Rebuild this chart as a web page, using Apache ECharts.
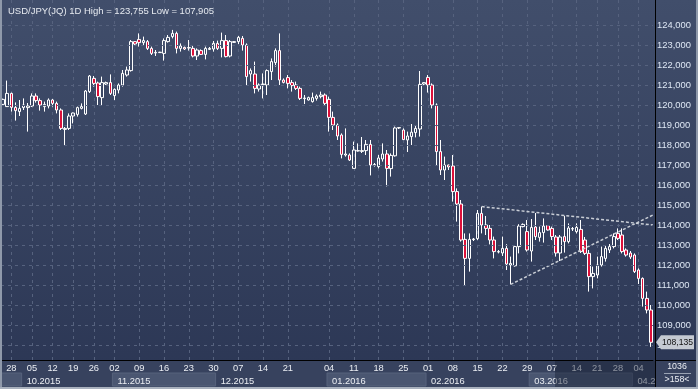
<!DOCTYPE html>
<html><head><meta charset="utf-8">
<script src="https://cdn.jsdelivr.net/npm/echarts@6/dist/echarts.min.js"></script>
<style>html,body{margin:0;padding:0;background:#2e3957}#c{width:698px;height:389px}</style>
</head><body><div id="c"></div><script>
const dates = [
'2015-09-24','2015-09-25','2015-09-28','2015-09-29','2015-09-30','2015-10-01','2015-10-02',
'2015-10-05','2015-10-06','2015-10-07','2015-10-08','2015-10-09',
'2015-10-12','2015-10-13','2015-10-14','2015-10-15','2015-10-16',
'2015-10-19','2015-10-20','2015-10-21','2015-10-22','2015-10-23',
'2015-10-26','2015-10-27','2015-10-28','2015-10-29','2015-10-30',
'2015-11-02','2015-11-03','2015-11-04','2015-11-05','2015-11-06','2015-11-07',
'2015-11-09','2015-11-10','2015-11-11','2015-11-12','2015-11-13','2015-11-14',
'2015-11-16','2015-11-17','2015-11-18','2015-11-19','2015-11-20','2015-11-21',
'2015-11-23','2015-11-24','2015-11-25','2015-11-26','2015-11-27','2015-11-28',
'2015-11-30','2015-12-01','2015-12-02','2015-12-03','2015-12-04','2015-12-05',
'2015-12-07','2015-12-08','2015-12-09','2015-12-10','2015-12-11','2015-12-12',
'2015-12-14','2015-12-15','2015-12-16','2015-12-17','2015-12-18','2015-12-19',
'2015-12-21','2015-12-22','2015-12-23','2015-12-24','2015-12-25','2015-12-26',
'2015-12-28','2015-12-29','2015-12-30','2015-12-31',
'2016-01-04','2016-01-05','2016-01-06','2016-01-07','2016-01-08','2016-01-09',
'2016-01-11','2016-01-12','2016-01-13','2016-01-14','2016-01-15','2016-01-16',
'2016-01-18','2016-01-19','2016-01-20','2016-01-21','2016-01-22','2016-01-23',
'2016-01-25','2016-01-26','2016-01-27','2016-01-28','2016-01-29','2016-01-30',
'2016-02-01','2016-02-02','2016-02-03','2016-02-04','2016-02-05','2016-02-06',
'2016-02-08','2016-02-09','2016-02-10','2016-02-11','2016-02-12','2016-02-13',
'2016-02-15','2016-02-16','2016-02-17','2016-02-18','2016-02-19','2016-02-20',
'2016-02-22','2016-02-23','2016-02-24','2016-02-25','2016-02-26','2016-02-27',
'2016-02-29','2016-03-01','2016-03-02','2016-03-03','2016-03-04','2016-03-05',
'2016-03-07','2016-03-08','2016-03-09','2016-03-10','2016-03-11','2016-03-12',
'2016-03-14','2016-03-15','2016-03-16','2016-03-17','2016-03-18',
'2016-03-21','2016-03-22','2016-03-23','2016-03-24','2016-03-25',
'2016-03-28','2016-03-29','2016-03-30','2016-03-31','2016-04-01',
'2016-04-04','2016-04-05','2016-04-06','2016-04-07'
];
const open = [
120.03,119.92,120.58,119.88,119.67,119.87,119.87,119.95,120.45,120.22,
119.92,119.95,120.25,120.08,119.75,118.78,118.83,119.45,119.53,119.83,
119.55,120.67,121.33,121.10,120.37,121.05,121.12,120.47,120.75,121.00,
121.50,121.72,123.17,123.28,123.12,123.17,122.83,122.60,122.62,122.58,
123.17,123.42,123.58,122.83,122.88,122.85,122.83,122.45,122.72,122.53,
122.78,122.80,123.08,122.83,123.22,122.45,123.13,123.17,123.33,123.00,
121.55,121.55,120.80,121.02,121.00,121.67,122.12,122.72,121.25,121.37,
121.12,121.00,120.83,120.32,120.25,120.17,120.33,120.42,120.50,120.28,
119.38,119.00,118.50,117.50,117.50,116.83,117.70,117.68,117.72,118.03,
117.00,116.92,117.30,117.55,116.82,117.46,118.85,118.75,118.25,118.42,
118.62,118.80,121.05,121.38,121.00,120.00,117.67,116.75,117.00,116.95,
115.67,115.05,113.28,112.33,113.27,113.32,114.58,114.00,113.83,113.25,
112.65,112.60,112.83,112.00,111.96,112.92,113.92,113.67,112.70,113.90,
113.38,113.62,113.97,113.83,113.40,112.60,113.42,113.17,113.80,113.67,
113.78,113.25,112.58,111.42,111.50,112.00,112.33,112.75,112.92,113.58,
113.50,112.75,112.60,112.50,111.75,111.33,110.33,109.75
];
const high = [
120.32,121.22,120.62,120.13,120.25,120.33,120.10,120.58,120.58,120.33,
120.17,120.33,120.30,120.17,119.83,118.90,119.58,119.62,119.92,120.08,
120.75,121.50,121.45,121.17,121.42,121.17,121.53,120.83,121.08,121.75,
121.92,123.25,123.20,123.58,123.42,123.25,122.92,122.75,122.66,123.33,
123.50,123.755,123.67,123.08,122.92,123.25,122.95,122.83,122.78,122.92,
122.90,123.20,123.22,123.62,123.50,123.25,123.20,123.45,123.45,123.08,
121.83,122.17,121.08,121.58,121.78,122.33,122.83,123.58,121.33,121.50,
121.25,121.17,120.92,120.50,120.42,120.62,120.53,120.67,120.58,120.42,
119.67,119.08,118.58,118.83,117.58,118.17,118.08,118.40,118.25,118.25,
117.10,117.50,118.08,117.75,117.58,118.92,118.90,118.83,118.67,119.05,
119.00,121.70,121.15,121.50,121.08,120.08,118.25,117.42,117.02,117.50,
115.83,115.25,113.58,113.58,113.35,114.75,114.92,114.45,114.00,113.42,
112.75,113.42,113.04,112.42,113.00,114.04,114.08,114.25,114.30,114.60,
113.92,114.33,114.00,113.92,113.50,113.50,114.46,114.08,113.90,114.08,
114.25,113.40,112.75,111.92,112.42,112.92,113.00,113.05,113.58,113.83,
113.83,112.83,112.70,112.58,111.83,111.38,110.67,110.00
];
const low = [
120.00,119.90,119.67,119.22,119.45,119.75,118.67,119.90,120.12,119.72,
119.67,119.83,119.92,119.58,118.75,118.00,118.75,119.08,119.42,119.78,
119.50,120.60,120.92,120.00,120.00,121.00,120.50,120.25,120.58,120.92,
121.42,121.67,123.00,122.92,123.00,122.75,122.50,122.45,122.60,122.22,
123.12,123.33,122.58,122.67,122.75,122.72,122.38,122.25,122.50,122.28,
122.75,122.67,122.75,122.38,122.38,122.38,123.10,123.05,122.72,121.00,
121.17,120.58,120.67,120.33,120.50,121.25,121.92,121.00,121.08,120.83,
120.67,120.75,120.25,120.05,120.22,120.12,120.22,120.33,120.00,118.67,
118.75,118.25,117.33,117.42,117.20,116.83,117.67,117.60,117.50,116.48,
116.92,116.83,117.17,115.93,116.42,117.42,118.80,118.25,117.65,118.00,
118.38,118.42,121.00,120.62,119.83,117.00,116.50,116.25,116.75,115.17,
114.17,113.17,110.97,111.67,113.20,113.25,113.58,113.50,113.03,112.33,
112.58,112.45,111.75,111.03,111.92,112.58,113.88,112.67,112.17,113.25,
113.17,113.12,113.72,113.25,112.42,112.20,112.62,113.08,113.70,113.58,
112.60,112.50,110.67,110.83,111.33,111.92,112.17,112.60,112.83,113.25,
112.58,112.42,112.30,111.60,111.05,109.92,109.58,107.905
];
const close = [
120.28,120.58,119.88,119.72,119.83,120.00,119.95,120.45,120.22,120.00,
120.03,120.25,120.08,119.75,118.83,118.83,119.45,119.60,119.87,119.92,
120.70,121.45,121.08,120.42,121.12,121.12,120.58,120.78,121.00,121.58,
121.75,123.17,123.05,123.12,123.22,122.83,122.58,122.63,122.64,123.22,
123.38,123.58,122.83,122.95,122.80,122.87,122.45,122.75,122.53,122.83,
122.83,123.08,122.83,123.22,122.42,123.17,123.17,123.38,123.00,121.42,
121.72,120.83,121.00,121.05,121.72,122.17,122.72,121.25,121.13,121.08,
120.97,120.83,120.33,120.35,120.37,120.37,120.45,120.50,120.08,119.38,
119.00,118.45,117.53,117.55,117.25,117.75,117.72,117.72,118.03,117.00,
117.02,117.35,117.55,116.83,117.48,118.85,118.87,118.27,118.45,118.64,
118.83,121.03,121.12,121.00,120.00,117.67,116.75,117.00,116.90,115.67,
115.05,113.25,112.33,113.28,113.30,114.58,114.00,113.83,113.25,112.67,
112.67,112.83,112.05,112.08,112.92,113.95,114.03,112.75,113.88,113.42,
113.62,113.95,113.75,113.42,112.60,113.40,113.17,113.85,113.82,113.88,
112.67,112.58,111.42,111.58,112.00,112.42,112.83,112.92,113.42,113.33,
112.67,112.50,112.40,111.67,111.33,110.33,109.75,108.135
];
// week-start tick labels (day of month shown)
const weekStarts = ['2015-09-28','2015-10-05','2015-10-12','2015-10-19','2015-10-26','2015-11-02','2015-11-09',
'2015-11-16','2015-11-23','2015-11-30','2015-12-07','2015-12-14','2015-12-21','2016-01-04','2016-01-11',
'2016-01-18','2016-01-25','2016-02-01','2016-02-08','2016-02-15','2016-02-22','2016-02-29','2016-03-07',
'2016-03-14','2016-03-21','2016-03-28','2016-04-04'];
const monthStarts = ['2015-09-24','2015-10-01','2015-11-02','2015-12-01','2016-01-04','2016-02-01','2016-03-01','2016-04-01'];
const monthLabels = ['', '10.2015','11.2015','12.2015','01.2016','02.2016','03.2016','04.2016'];
// horizontal price grid / tick values
const priceTicks = [108,109,110,111,112,113,114,115,116,117,118,119,120,121,122,123,124];
// trend lines: [category index, value]
const upperLine = [[116, 114.92], [157.5, 114.0]];
const lowerLine = [[123, 111.03], [157.5, 114.5]];
const symbolName = 'USD/JPY(JQ)', period = '1D', barsShown = '1036', barsVisible = '>158<';

const FONT = 'Liberation Sans';
const mctx = document.createElement('canvas').getContext('2d');
function fit(text, target) { mctx.font = '20px "' + FONT + '"'; return Math.round(20 * target / mctx.measureText(text).width * 10) / 10; }

const weekSet = new Set(weekStarts);
const monthMap = {}; monthStarts.forEach((d,i)=>{ if(monthLabels[i]) monthMap[d]=monthLabels[i]; });
const fmt = v => v.toFixed(3).replace('.', ',');
const hi = Math.max(...high), lo = Math.min(...low);
const ohlc = dates.map((d,i)=>[open[i], close[i], low[i], high[i]]);
const titleText = symbolName + ' ' + period + ' High = ' + fmt(hi) + ' Low = ' + fmt(lo);
const fsTitle = fit(titleText, 206);
const fsY = fit('124,000', 34);
const fsX = fit('10.2015', 33.5);
const fsPrice = fit('108,135', 31);
const fsBox = fit('>158<', 25);
const tickSet = new Set(priceTicks);

const chart = echarts.init(document.getElementById('c'));
const option = {
  animation: false,
  backgroundColor: {type:'linear', x:0, y:0, x2:0, y2:1, colorStops:[{offset:0,color:'#414e6b'},{offset:1,color:'#2b3654'}]},
  textStyle: {fontFamily: FONT},
  title: {text: titleText, left: 3, top: 1,
    textStyle: {fontSize: fsTitle, fontWeight: 'normal', color: '#e6eaf0', fontFamily: FONT}},
  grid: {left: 1, right: 45, top: 0, bottom: 29},
  xAxis: [
    {type: 'category', data: dates, boundaryGap: true,
     axisLine: {show: true, lineStyle: {color: '#000', width: 1}}, axisTick: {show: false},
     axisLabel: {interval: (i, v) => weekSet.has(v), formatter: v => v.slice(8, 10), color: '#eceff4', fontSize: fsX, margin: 4, fontFamily: FONT},
     splitLine: {show: true, interval: (i, v) => weekSet.has(v), alignWithLabel: true, lineStyle: {color: '#56627e', type: [3, 4]}}},
    {type: 'category', data: dates, boundaryGap: true, position: 'bottom', offset: 13,
     axisLine: {show: false}, axisTick: {show: false}, splitLine: {show: false},
     axisLabel: {interval: (i, v) => !!monthMap[v], formatter: v => monthMap[v] || '', align: 'left', padding: [0, 0, 0, 3],
       color: '#eceff4', fontSize: fsX, margin: 4, fontFamily: FONT}},
    {type: 'value', min: -0.5, max: dates.length - 0.5, show: false}
  ],
  yAxis: {type: 'value', position: 'right', min: 107.25, max: 125.25, splitNumber: 18,
    axisLine: {show: false}, axisTick: {show: false},
    axisLabel: {formatter: v => tickSet.has(Math.round(v * 1000) / 1000) ? fmt(v) : '', color: '#dfe8f5', fontSize: fsY, margin: 4, fontFamily: FONT},
    splitLine: {show: false}},
  series: [
    {type: 'line', xAxisIndex: 2, data: [], z: 1, silent: true,
     markLine: {silent: true, symbol: 'none', label: {show: false}, animation: false,
       lineStyle: {color: '#56627e', type: [3, 4], width: 1},
       data: priceTicks.map(v => ({yAxis: v}))}},
    {type: 'candlestick', xAxisIndex: 0, data: ohlc, barWidth: 3, z: 3,
     itemStyle: {color: 'rgba(0,0,0,0)', color0: '#dc103a', borderColor: '#ffffff', borderColor0: '#ffffff', borderWidth: 1}},
    {type: 'line', xAxisIndex: 2, data: upperLine, symbol: 'none', silent: true, z: 4, lineStyle: {color: '#c9ced6', width: 1.5, type: [3, 2]}},
    {type: 'line', xAxisIndex: 2, data: lowerLine, symbol: 'none', silent: true, z: 4, lineStyle: {color: '#c9ced6', width: 1.5, type: [3, 2]}}
  ]
};
chart.setOption(option);

// decorations positioned through the library's scales
const cx = d => chart.convertToPixel({xAxisIndex: 0}, d);
const band = cx(dates[1]) - cx(dates[0]);
const g = [];
g.push({type: 'rect', shape: {x: 0, y: 361, width: 655, height: 26}, style: {fill: '#37425e'}, z: -1});
const idx = monthStarts.map(d => dates.indexOf(d));
idx.forEach((s, m) => {
  const e = (m + 1 < idx.length ? idx[m + 1] : dates.length) - 1;
  if (m % 2 === 0) {
    const x0 = cx(dates[s]) - band / 2, x1 = cx(dates[e]) + band / 2;
    g.push({type: 'rect', shape: {x: x0, y: 373, width: x1 - x0, height: 13}, style: {fill: '#4a5671', stroke: '#56627c', lineWidth: 1}, z: -1});
  }
});
g.push({type: 'rect', shape: {x: 555, y: 361, width: 100, height: 26}, style: {fill: 'rgba(22,30,50,0.45)'}, z: 100});
g.push({type: 'rect', shape: {x: 656, y: 361, width: 42, height: 28}, style: {fill: '#37425e'}, z: 100});
g.push({type: 'line', shape: {x1: 655.5, y1: 0, x2: 655.5, y2: 389}, style: {stroke: '#000', lineWidth: 1}, z: 101});
g.push({type: 'line', shape: {x1: 655, y1: 360.5, x2: 698, y2: 360.5}, style: {stroke: '#000', lineWidth: 1}, z: 101});
g.push({type: 'rect', shape: {x: 0, y: 0, width: 2, height: 389}, style: {fill: '#8f99aa'}, z: 102});
g.push({type: 'rect', shape: {x: 696, y: 0, width: 2, height: 389}, style: {fill: '#8f99aa'}, z: 102});
g.push({type: 'rect', shape: {x: 0, y: 387, width: 698, height: 2}, style: {fill: '#a9b1be'}, z: 102});
g.push({type: 'text', x: 677, y: 367, style: {text: barsShown, fill: '#eceff4', font: fsBox + 'px "' + FONT + '"', textAlign: 'center', textVerticalAlign: 'middle'}, z: 102});
g.push({type: 'line', shape: {x1: 664, y1: 373.5, x2: 691, y2: 373.5}, style: {stroke: '#9aa3b3', lineWidth: 1}, z: 102});
g.push({type: 'text', x: 677, y: 380, style: {text: barsVisible, fill: '#eceff4', font: fsBox + 'px "' + FONT + '"', textAlign: 'center', textVerticalAlign: 'middle'}, z: 102});
const py = chart.convertToPixel({yAxisIndex: 0}, close[close.length - 1]);
g.push({type: 'polygon', shape: {points: [[656, py], [661, py - 7], [694, py - 7], [694, py + 7], [661, py + 7]]}, style: {fill: '#c5cad2'}, z: 102});
g.push({type: 'text', x: 662, y: py, style: {text: fmt(close[close.length - 1]), fill: '#111', font: fsPrice + 'px "' + FONT + '"', textVerticalAlign: 'middle'}, z: 103});
chart.setOption({graphic: g});
</script></body></html>
